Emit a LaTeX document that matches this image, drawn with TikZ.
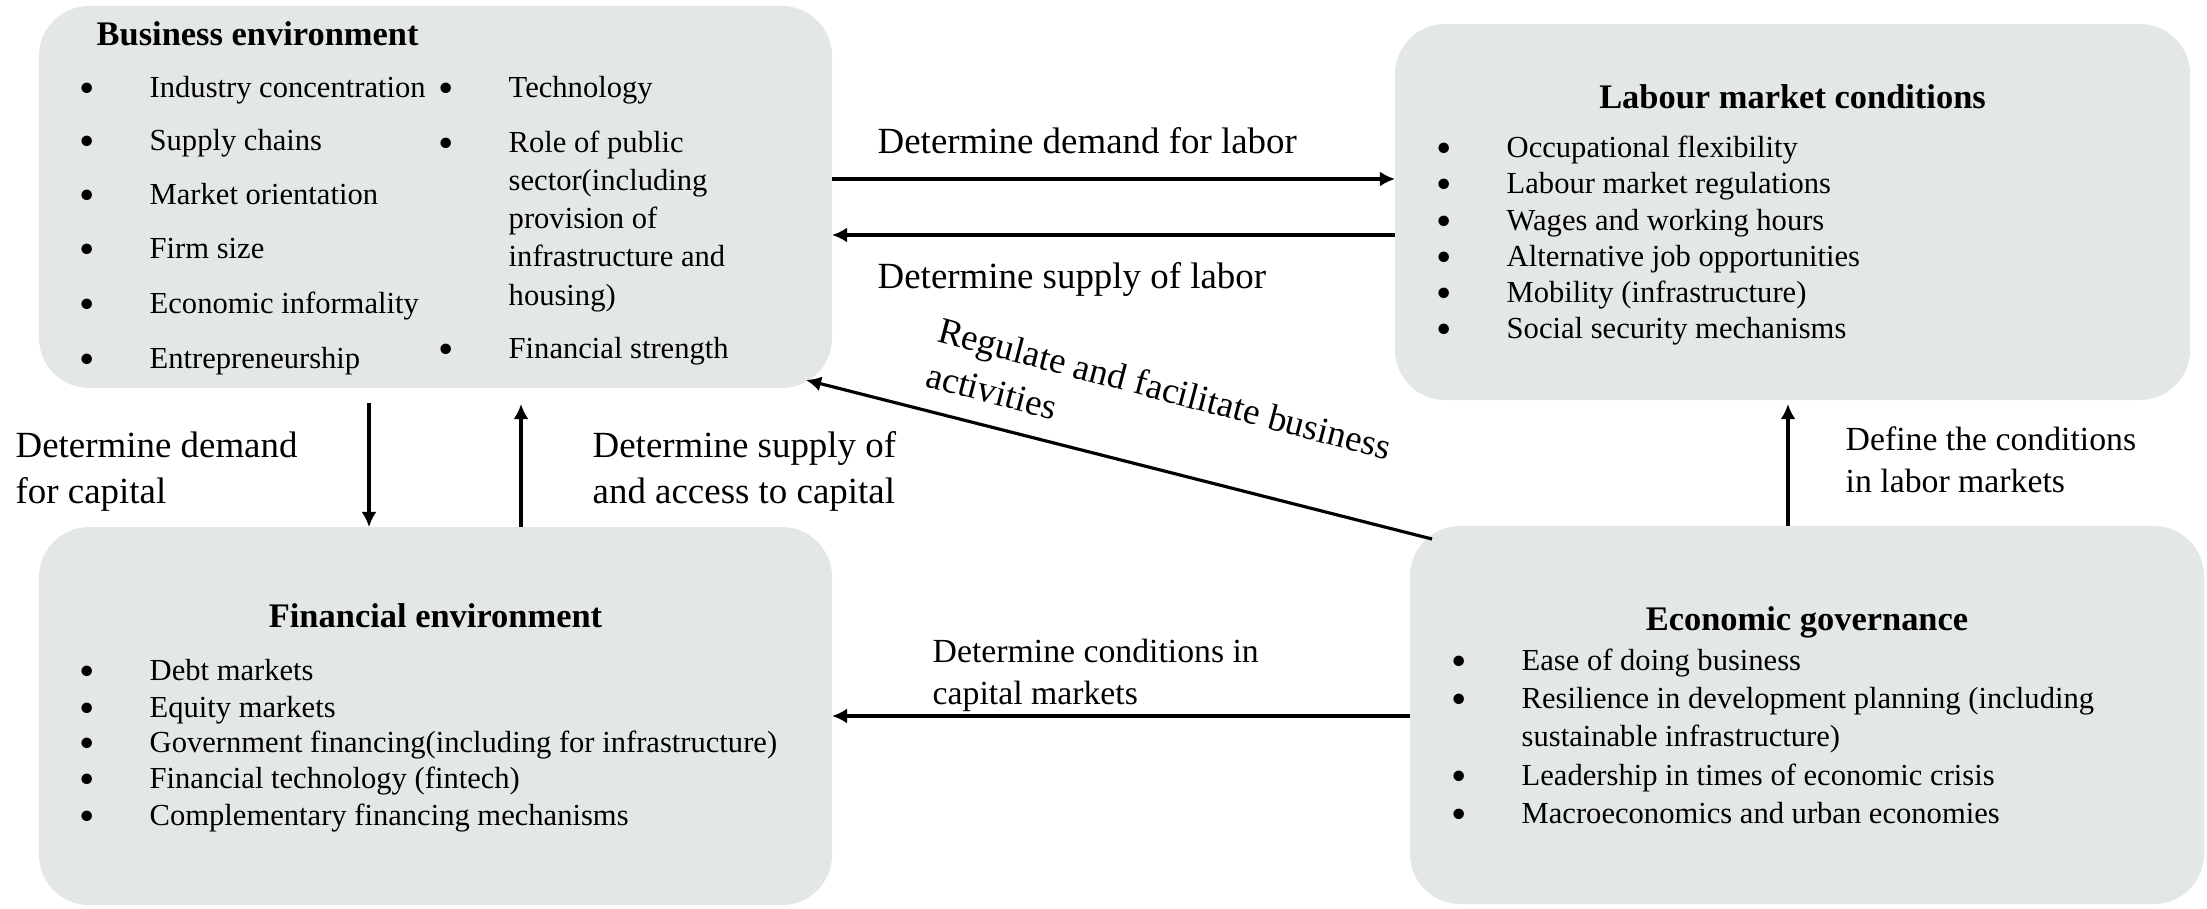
\documentclass[tikz,border=0pt]{standalone}
\usepackage{fontspec}
\setmainfont{Liberation Serif}
\usetikzlibrary{arrows.meta}
\definecolor{boxgray}{RGB}{228,231,232}
\newcommand{\itm}[1]{\makebox[7mm][l]{\raisebox{0.7pt}{\fontsize{7.5}{9}\selectfont$\bullet$}}#1}
\newcommand{\lines}[1]{\begin{tabular}[t]{@{}l@{}}#1\end{tabular}}
\begin{document}
\begin{tikzpicture}[x=0.1mm,y=-0.1mm,
    box/.style={fill=boxgray,rounded corners=5mm,inner sep=0pt,outer sep=0pt},
    item/.style={anchor=base west,inner sep=0pt,font=\fontsize{8.7}{10.9}\selectfont},
    head/.style={anchor=base,inner sep=0pt,font=\fontsize{9.8}{12}\selectfont\bfseries},
    lbl/.style={anchor=base west,inner sep=0pt,font=\fontsize{10.5}{13.1}\selectfont},
    lblsmall/.style={lbl,font=\fontsize{9.6}{12}\selectfont},
    arr/.style={line width=0.9pt,-{Latex[length=4.3pt,width=4.3pt]}}]
  \useasboundingbox (0,0) rectangle (2207,908);

  % the four boxes
  \node[box,minimum width=79.3mm,minimum height=38.2mm] (B) at (435.5,197) {};
  \node[box,minimum width=79.5mm,minimum height=37.6mm] (L) at (1792.5,212) {};
  \node[box,minimum width=79.3mm,minimum height=37.8mm] (F) at (435.5,716) {};
  \node[box,minimum width=79.4mm,minimum height=37.8mm] (G) at (1807,715) {};

  % business environment
  \node[head,anchor=base west] (Bt) at (96,45) {Business environment};
  \node[item] (b1) at (79,97) {\itm{Industry concentration}};
  \node[item] (b2) at (79,150) {\itm{Supply chains}};
  \node[item] (b3) at (79,204) {\itm{Market orientation}};
  \node[item] (b4) at (79,258) {\itm{Firm size}};
  \node[item] (b5) at (79,313) {\itm{Economic informality}};
  \node[item] (b6) at (79,368) {\itm{Entrepreneurship}};
  \node[item] (c1) at (438,97) {\itm{Technology}};
  \node[item] (c2) at (438,152) {\itm{\lines{Role of public\\sector(including\\provision of\\infrastructure and\\housing)}}};
  \node[item] (c3) at (438,358) {\itm{Financial strength}};

  % labour market
  \node[head] (Lt) at (L.center |- 0,108) {Labour market conditions};
  \node[item] (l1) at (1436,157) {\itm{Occupational flexibility}};
  \node[item] (l2) at (1436,193) {\itm{Labour market regulations}};
  \node[item] (l3) at (1436,230) {\itm{Wages and working hours}};
  \node[item] (l4) at (1436,266) {\itm{Alternative job opportunities}};
  \node[item] (l5) at (1436,302) {\itm{Mobility (infrastructure)}};
  \node[item] (l6) at (1436,338) {\itm{Social security mechanisms}};

  % financial environment
  \node[head] (Ft) at (F.center |- 0,627) {Financial environment};
  \node[item] (f1) at (79,680) {\itm{Debt markets}};
  \node[item] (f2) at (79,717) {\itm{Equity markets}};
  \node[item] (f3) at (79,752) {\itm{Government financing(including for infrastructure)}};
  \node[item] (f4) at (79,788) {\itm{Financial technology (fintech)}};
  \node[item] (f5) at (79,825) {\itm{Complementary financing mechanisms}};

  % economic governance
  \node[head] (Gt) at (G.center |- 0,630) {Economic governance};
  \node[item] (g1) at (1451,670) {\itm{Ease of doing business}};
  \node[item] (g2) at (1451,708) {\itm{\lines{Resilience in development planning (including\\sustainable infrastructure)}}};
  \node[item] (g3) at (1451,785) {\itm{Leadership in times of economic crisis}};
  \node[item] (g4) at (1451,823) {\itm{Macroeconomics and urban economies}};

  % arrows
  \draw[arr] (B.east |- 0,179) -- (L.west |- 0,179);
  \draw[arr] (L.west |- 0,235) -- (B.east |- 0,235);
  \draw[arr,shorten <=1.5mm] (B.south -| 369,0) -- (F.north -| 369,0);
  \draw[arr,shorten >=1.6mm] (F.north -| 521,0) -- (B.south -| 521,0);
  \draw[arr,shorten >=0.4mm] (G.north -| 1788,0) -- (L.south -| 1788,0);
  \draw[arr] (G.west |- 0,716) -- (F.east |- 0,716);
  \draw[arr] ([shift={(22,13)}]G.north west) -- ([shift={(-26,-8)}]B.south east);

  % arrow labels
  \node[lbl] (dlab) at (877,153) {Determine demand for labor};
  \node[lbl] (slab) at (877,288) {Determine supply of labor};
  \node[lbl] (dcap) at (15,457) {\lines{Determine demand\\for capital}};
  \node[lbl] (scap) at (592,457) {\lines{Determine supply of\\and access to capital}};
  \node[lblsmall] (dlm) at (1845,450) {\lines{Define the conditions\\in labor markets}};
  \node[lblsmall] (ccap) at (932,662) {\lines{Determine conditions in\\capital markets}};
  \node[lbl,anchor=center,rotate=-14.7] (reg) at (1158,414) {\lines{Regulate and facilitate business\\activities}};
\end{tikzpicture}
\end{document}
